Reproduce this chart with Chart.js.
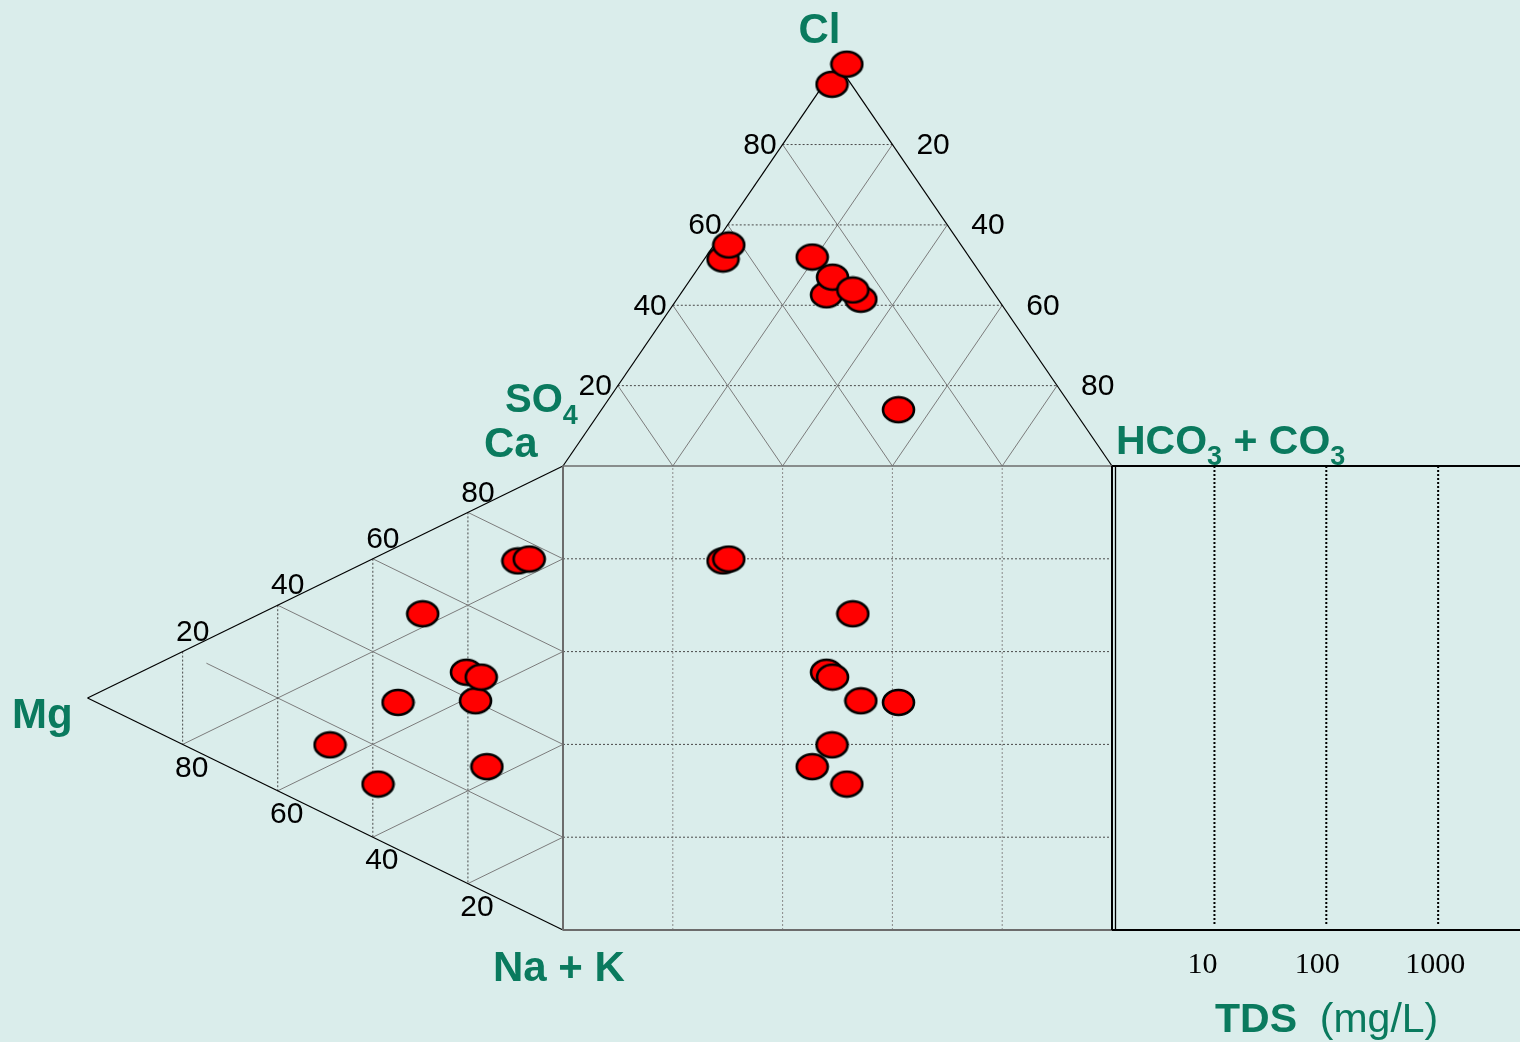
<!DOCTYPE html>
<html>
<head>
<meta charset="utf-8">
<script src="https://cdn.jsdelivr.net/npm/chart.js@4.4.1/dist/chart.umd.min.js"></script>
<style>
  html, body { margin: 0; padding: 0; background: #DAEDEB; }
  canvas { display: block; }
</style>
</head>
<body>
<canvas id="durov" width="1520" height="1042"></canvas>
<script>
// Durov diagram: anion triangle (top), cation triangle (left),
// the combined square and the TDS strip on the right.

// Anions, % meq (SO4 makes up the remainder). Listed in drawing order.
const anionCl   = [95, 100, 51.5, 55, 52, 42.6, 41.5, 47, 43.8, 14];
const anionHCO3 = [1.5, 1.7, 3.4, 2.7, 19.4, 26.7, 33.5, 25.6, 30.9, 54.1];

// Cations, % meq (Na + K makes up the remainder).
const cationCa = [15.4, 12.0, 74.8, 76.4, 27.2, 45.4, 40.2, 45.9, 53.4, 31.7];
const cationMg = [49.0, 38.9, 9.5, 7.1, 16.0, 20.3, 18.4, 17.2, 29.5, 34.7];

// Tick values
const ternaryTicks = [20, 40, 60, 80];
const tdsTicks = [10, 100, 1000];
const tdsTickLabels = ['10', '100', '1000'];

const S60 = Math.sqrt(3) / 2;

// Top triangle: SO4 corner (0,100), HCO3+CO3 corner (100,100), Cl apex on top
function anionPos(cl, hco3) { return { x: hco3 + cl / 2, y: 100 + cl * S60 }; }
// Left triangle: Na+K corner (0,0), Ca corner (0,100), Mg apex on the left
function cationPos(ca, mg) { return { x: -mg * S60, y: ca + mg / 2 }; }

const anionPoints  = anionCl.map((cl, i) => anionPos(cl, anionHCO3[i]));
const cationPoints = cationCa.map((ca, i) => cationPos(ca, cationMg[i]));
const squarePoints = anionPoints.map((p, i) => ({ x: p.x, y: cationPoints[i].y }));

const TEAL = '#0A7A5E';

function ellipseMarker(w, h) {
  const c = document.createElement('canvas');
  c.width = w + 4; c.height = h + 4;
  const g = c.getContext('2d');
  g.beginPath();
  g.ellipse(c.width / 2, c.height / 2, w / 2, h / 2, 0, 0, Math.PI * 2);
  g.fillStyle = '#FF0000';
  g.fill();
  g.lineWidth = 2.6;
  g.strokeStyle = '#000000';
  g.stroke();
  return c;
}
const marker = ellipseMarker(31, 25);

function pointSet(data) {
  return {
    data: data,
    pointStyle: marker,
    pointRadius: 16,
    pointHoverRadius: 16,
    showLine: false
  };
}

const diagramPlugin = {
  id: 'durovFrame',
  beforeDraw(chart) {
    const ctx = chart.ctx;
    ctx.save();
    ctx.fillStyle = '#DAEDEB';
    ctx.fillRect(0, 0, chart.width, chart.height);
    ctx.restore();
  },
  beforeDatasetsDraw(chart) {
    const ctx = chart.ctx;
    const xs = chart.scales.x, ys = chart.scales.y, ts = chart.scales.tds;
    const X = v => xs.getPixelForValue(v);
    const Y = v => ys.getPixelForValue(v);

    function line(a, b, color, width, dash) {
      ctx.save();
      ctx.beginPath();
      ctx.strokeStyle = color;
      ctx.lineWidth = width;
      ctx.setLineDash(dash || []);
      ctx.moveTo(X(a.x), Y(a.y));
      ctx.lineTo(X(b.x), Y(b.y));
      ctx.stroke();
      ctx.restore();
    }
    const DOT = [2, 2];
    const GRID = '#7c7c7c';
    const DARK = '#4a4a4a';

    // --- anion triangle grid
    ternaryTicks.forEach(t => {
      line(anionPos(t, 0), anionPos(t, 100 - t), DARK, 1, DOT);          // constant Cl
      line(anionPos(0, t), anionPos(100 - t, t), GRID, 1);              // constant HCO3
      line(anionPos(0, 100 - t), anionPos(100 - t, 0), GRID, 1);        // constant SO4
    });

    // --- cation triangle grid
    ternaryTicks.forEach(t => {
      line(cationPos(100 - t, t), cationPos(0, t), DARK, 1, DOT);        // constant Mg
      const mgStart = t === 20 ? 75 : 100 - t;
      line(cationPos(t, 0), cationPos(t, mgStart), GRID, 1);            // constant Ca
      line(cationPos(100 - t, 0), cationPos(0, 100 - t), GRID, 1);      // constant Na+K
    });

    // --- square grid
    ternaryTicks.forEach(t => {
      line({ x: t, y: 0 }, { x: t, y: 100 }, '#8a8a8a', 1, DOT);
      line({ x: 0, y: t }, { x: 100, y: t }, DARK, 1, DOT);
    });

    // --- outlines
    line(anionPos(0, 0), anionPos(100, 0), '#000', 1.2);
    line(anionPos(100, 0), anionPos(0, 100), '#000', 1.2);
    line(cationPos(100, 0), cationPos(0, 100), '#000', 1.2);
    line(cationPos(0, 100), cationPos(0, 0), '#000', 1.2);
    line({ x: 0, y: 0 }, { x: 0, y: 100 }, '#6c6c6c', 2);
    line({ x: 0, y: 0 }, { x: 100, y: 0 }, '#6c6c6c', 2);
    line({ x: 0, y: 100 }, { x: 100, y: 100 }, '#6c6c6c', 1.5);

    // --- TDS strip
    const rightEdge = xs.getValueForPixel(chart.width + 20);
    line({ x: 100, y: 100 }, { x: rightEdge, y: 100 }, '#000', 2);
    line({ x: 100, y: 0 }, { x: rightEdge, y: 0 }, '#000', 2);
    line({ x: 100, y: 0 }, { x: 100, y: 100 }, '#000', 2);
    const x2 = xs.getValueForPixel(X(100) + 3.5);
    line({ x: x2, y: 0 }, { x: x2, y: 100 }, '#000', 1.3);
    tdsTicks.forEach(v => {
      const px = ts.getPixelForValue(v);
      ctx.save();
      ctx.beginPath();
      ctx.strokeStyle = '#000';
      ctx.lineWidth = 2;
      ctx.setLineDash([2, 2]);
      ctx.moveTo(px, Y(100));
      ctx.lineTo(px, Y(1));
      ctx.stroke();
      ctx.restore();
    });
  },
  afterDatasetsDraw(chart) {
    const ctx = chart.ctx;
    const xs = chart.scales.x, ys = chart.scales.y, ts = chart.scales.tds;
    const X = v => xs.getPixelForValue(v);
    const Y = v => ys.getPixelForValue(v);

    function text(str, px, py, font, color, align, baseline) {
      ctx.save();
      ctx.font = font;
      ctx.fillStyle = color;
      ctx.textAlign = align || 'left';
      ctx.textBaseline = baseline || 'alphabetic';
      ctx.fillText(str, px, py);
      const w = ctx.measureText(str).width;
      ctx.restore();
      return w;
    }
    // runs of [text, font, baselineShift] drawn one after another
    function runs(parts, px, py) {
      let x = px;
      parts.forEach(([s, font, dy]) => { x += text(s, x, py + (dy || 0), font, TEAL); });
    }

    const FAM = '"Liberation Sans", Arial, sans-serif';
    const NUM = '30px ' + FAM;
    const BOLD = 'bold 42px ' + FAM;
    const BOLD40 = 'bold 40px ' + FAM;
    const BOLD41 = 'bold 41px ' + FAM;
    const SUB = 'bold 27px ' + FAM;

    ternaryTicks.forEach(t => {
      // anion triangle: Cl along the left edge, HCO3 along the right edge
      const l = anionPos(t, 0);
      text(String(t), X(l.x) - 6, Y(l.y) + 1, NUM, '#000', 'right', 'middle');
      const r = anionPos(100 - t, t);
      text(String(t), X(r.x) + 24, Y(r.y) + 1, NUM, '#000', 'left', 'middle');
      // cation triangle: Ca along the upper edge, Mg along the lower edge
      const u = cationPos(t, 100 - t);
      text(String(t), X(u.x) + 10, Y(u.y) - 19, NUM, '#000', 'center', 'middle');
      const d = cationPos(0, t);
      text(String(t), X(d.x) + 9, Y(d.y) + 24, NUM, '#000', 'center', 'middle');
    });

    // TDS tick labels sit a little left of their grid lines
    const tdsLabelShift = [-12, -9, -3];
    tdsTicks.forEach((v, i) => {
      text(tdsTickLabels[i], ts.getPixelForValue(v) + tdsLabelShift[i], Y(0) + 35,
        '30px "Liberation Serif", "Times New Roman", serif', '#000', 'center', 'middle');
    });

    // component titles
    const apex = anionPos(100, 0);
    text('Cl', X(apex.x) - 18, 43, BOLD, TEAL, 'center');
    runs([['SO', BOLD40], ['4', SUB, 12]], 505, 412);
    runs([['Ca', BOLD]], 484, 457);
    runs([['HCO', BOLD41], ['3', SUB, 11], [' + CO', BOLD41], ['3', SUB, 11]], 1116, 454);
    runs([['Mg', BOLD]], 12, 728);
    runs([['Na + K', BOLD]], 493, 981);
    runs([['TDS', BOLD41], ['  (mg/L)', '41px ' + FAM]], 1215, 1032);
  }
};

// Pixel mapping: 5.49 px per x-unit, 4.64 px per y-unit, square corner at (563, 930)
const X_MIN = -563 / 5.49, X_MAX = (1520 - 563) / 5.49;
const Y_MAX = 930 / 4.64, Y_MIN = -(1042 - 930) / 4.64;
// TDS: one decade = 111.85 px, 100 mg/L at x = 1326.3 px
const TDS_MIN = Math.pow(10, 2 - 1326.3 / 111.85);
const TDS_MAX = Math.pow(10, 2 + (1520 - 1326.3) / 111.85);

new Chart(document.getElementById('durov'), {
  type: 'scatter',
  data: {
    datasets: [pointSet(anionPoints), pointSet(cationPoints), pointSet(squarePoints)]
  },
  options: {
    responsive: false,
    animation: false,
    events: [],
    layout: { padding: 0, autoPadding: false },
    plugins: { legend: { display: false }, tooltip: { enabled: false } },
    scales: {
      x: { type: 'linear', display: false, min: X_MIN, max: X_MAX, bounds: 'data' },
      y: { type: 'linear', display: false, min: Y_MIN, max: Y_MAX, bounds: 'data' },
      tds: { type: 'logarithmic', axis: 'x', position: 'bottom', display: false,
             min: TDS_MIN, max: TDS_MAX, bounds: 'data' }
    }
  },
  plugins: [diagramPlugin]
});
</script>
</body>
</html>
